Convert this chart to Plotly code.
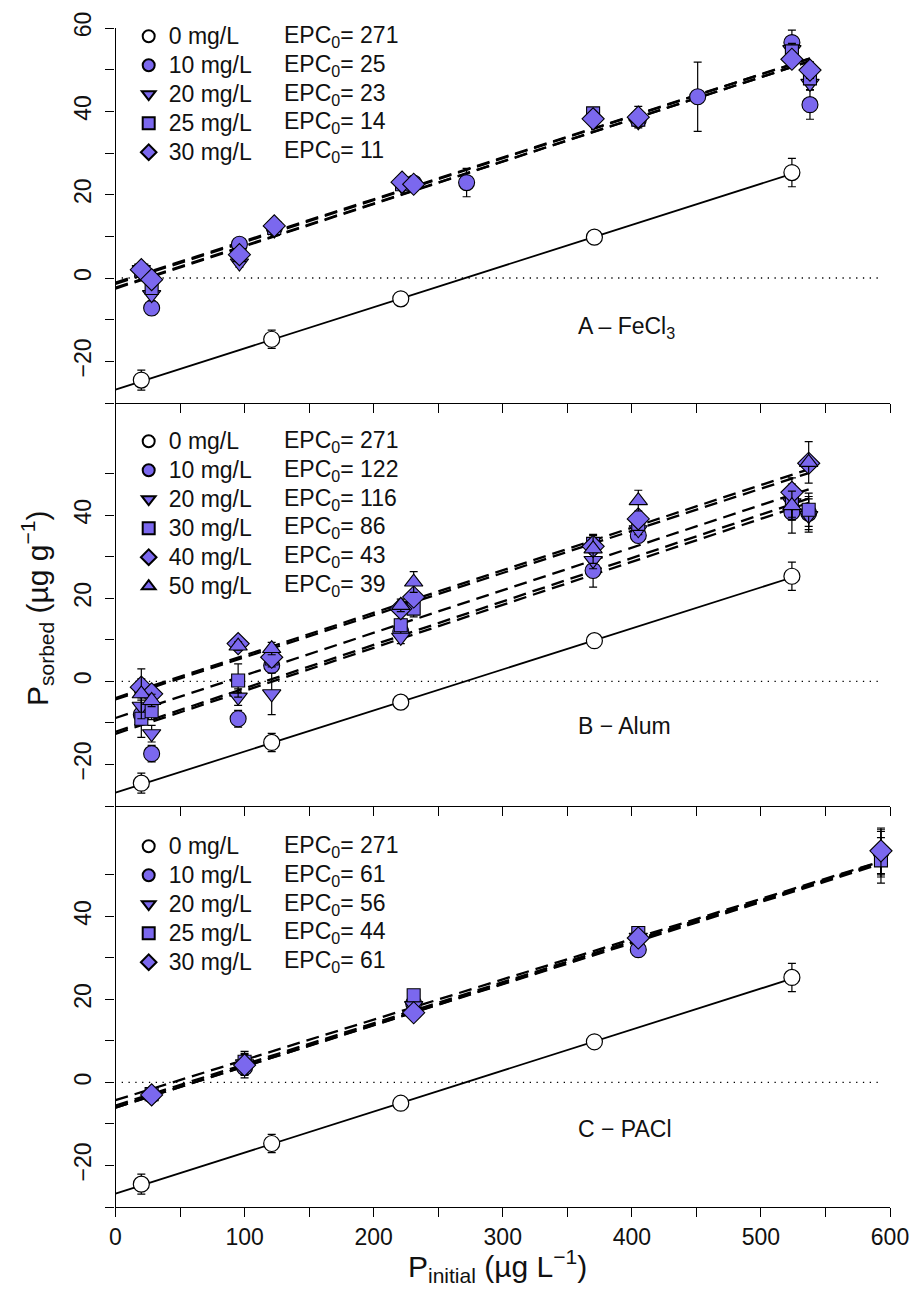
import numpy as np
import plotly.graph_objects as go

W, H = 911, 1310
FILL = "#7B68EE"
FONT = "Arial, Liberation Sans, sans-serif"

# ---------------- data ----------------
# control (0 mg/L), same in every panel
ctrl_x = [20, 121, 221, 371, 524]
ctrl_y = [-24.5, -14.7, -5.0, 9.8, 25.3]
ctrl_err = [2.4, 2.2, 1.0, 1.4, 3.4]
ctrl_epc = 271
ctrl_slope = 0.0988

# Panel A - FeCl3
fe_labels = ["10 mg/L", "20 mg/L", "25 mg/L", "30 mg/L"]
fe_epc = [25, 23, 14, 11]
fe_slope = [0.1015, 0.1010, 0.1005, 0.1000]
fe_x = [
    [28, 96, 123, 231, 272, 405, 451, 524, 538],
    [20, 28, 96, 123, 222, 370, 405, 524, 538],
    [20, 28, 96, 123, 222, 370, 405, 524, 538],
    [20, 28, 96, 123, 222, 231, 370, 405, 524, 538],
]
fe_y = [
    [-7.2, 8.1, 12.0, 22.8, 22.9, 38.0, 43.5, 56.5, 41.6],
    [2.0, -4.0, 3.6, 11.5, 22.0, 37.5, 37.5, 54.8, 46.7],
    [1.8, -2.4, 5.5, 12.0, 22.5, 39.5, 38.0, 54.4, 47.9],
    [2.0, -0.4, 5.6, 12.5, 23.0, 22.5, 38.2, 38.6, 52.5, 49.9],
]
fe_err = [
    [1.6, 1.0, 1.0, 1.0, 3.4, 1.0, 8.3, 3.0, 3.5],
    [1.0, 1.5, 1.0, 1.0, 1.0, 1.0, 1.0, 1.5, 1.5],
    [1.0, 1.5, 1.0, 1.0, 1.0, 1.0, 1.0, 1.5, 1.5],
    [1.0, 1.2, 1.0, 1.0, 1.0, 1.0, 1.0, 2.6, 1.0, 2.0],
]

# Panel B - Alum
al_labels = ["10 mg/L", "20 mg/L", "30 mg/L", "40 mg/L", "50 mg/L"]
al_epc = [122, 116, 86, 43, 39]
al_slope = [0.1035, 0.1045, 0.1025, 0.1015, 0.1025]
al_x = [
    [20, 28, 95, 121, 221, 370, 405, 524, 537],
    [20, 28, 95, 121, 221, 370, 405, 524, 537],
    [20, 28, 95, 121, 221, 231, 370, 405, 524, 537],
    [20, 28, 95, 121, 221, 231, 370, 405, 524, 537],
    [20, 28, 95, 121, 221, 231, 370, 405, 524, 537],
]
al_y = [
    [-8.0, -17.4, -9.0, 3.8, 12.0, 26.7, 35.1, 40.7, 40.5],
    [-6.0, -12.6, -3.8, -3.0, 10.6, 29.1, 36.5, 43.0, 39.9],
    [-9.0, -7.2, 0.2, 5.5, 13.5, 17.5, 33.1, 37.9, 43.5, 41.3],
    [-1.4, -3.0, 9.1, 5.8, 17.5, 20.3, 32.5, 39.1, 45.5, 52.5],
    [-3.0, -4.6, 8.5, 7.9, 18.3, 23.9, 31.9, 43.5, 42.3, 52.7],
]
al_err = [
    [2.0, 2.0, 2.0, 1.5, 1.5, 4.0, 1.2, 5.0, 4.0],
    [2.0, 2.0, 2.0, 5.0, 1.5, 2.0, 1.2, 4.0, 4.0],
    [4.5, 2.0, 4.0, 2.0, 1.5, 2.0, 2.0, 1.5, 4.0, 4.0],
    [2.0, 1.5, 1.0, 1.5, 1.5, 1.5, 1.5, 1.5, 3.5, 1.5],
    [6.0, 1.5, 1.0, 1.5, 1.5, 2.5, 3.5, 2.5, 3.5, 5.0],
]

# Panel C - PACl
pa_labels = ["10 mg/L", "20 mg/L", "25 mg/L", "30 mg/L"]
pa_epc = [61, 56, 44, 61]
pa_slope = [0.0995, 0.0990, 0.0970, 0.0990]
pa_x = [
    [28, 100, 231, 405, 593],
    [28, 100, 231, 405, 593],
    [28, 100, 231, 405, 593],
    [28, 100, 231, 405, 593],
]
pa_y = [
    [-3.0, 3.6, 19.0, 32.0, 55.5],
    [-3.5, 4.5, 18.5, 35.0, 55.0],
    [-2.8, 5.0, 21.0, 36.0, 53.5],
    [-3.0, 4.2, 16.8, 34.8, 55.8],
]
pa_err = [
    [1.0, 2.5, 1.0, 1.0, 5.5],
    [1.0, 2.5, 1.0, 1.0, 5.5],
    [1.0, 2.5, 1.0, 1.0, 5.5],
    [1.0, 2.5, 1.0, 1.0, 5.5],
]

panel_titles = ["A \u2013 FeCl<sub>3</sub>", "B \u2212 Alum", "C \u2212 PACl"]

fe_symbols = ["circle", "triangle-down", "square", "diamond"]
al_symbols = ["circle", "triangle-down", "square", "diamond", "triangle-up"]
pa_symbols = ["circle", "triangle-down", "square", "diamond"]
sym_size = {"circle": 16, "triangle-down": 16, "square": 13, "diamond": 17, "triangle-up": 16}

# y tick sets per panel
y_major = [[-20, 0, 20, 40, 60], [-20, 0, 20, 40], [-20, 0, 20, 40]]
y_minor = [[-30, -10, 10, 30, 50], [-30, -10, 10, 30, 50], [-30, -10, 10, 30, 50]]
x_major = [0, 100, 200, 300, 400, 500, 600]
x_minor = [50, 150, 250, 350, 450, 550]

# ---------------- layout geometry (pixels) ----------------
x_left, x_right = 115.5, 890.0
panel_px = [(28, 403), (403, 806), (806, 1207)]
y_ranges = [(-30, 60), (-30, 67), (-30, 66.6)]


def py(v):
    return 1 - v / H


def px(v):
    return v / W


fig = go.Figure()


def add_panel(k, labels, epcs, slopes, xs, ys, errs, symbols):
    xa = "x" if k == 0 else f"x{k+1}"
    ya = "y" if k == 0 else f"y{k+1}"
    leg = "legend" if k == 0 else f"legend{k+1}"
    # control line
    xl = np.array([0, max(ctrl_x)], dtype=float)
    fig.add_trace(go.Scatter(x=xl, y=ctrl_slope * (xl - ctrl_epc), mode="lines",
                             line=dict(color="black", width=1.8), showlegend=False,
                             xaxis=xa, yaxis=ya, hoverinfo="skip"))
    # treatment fit lines
    for e, s, xv in zip(epcs, slopes, xs):
        xl = np.array([0, max(xv)], dtype=float)
        fig.add_trace(go.Scatter(x=xl, y=s * (xl - e), mode="lines",
                                 line=dict(color="black", width=2.3, dash="13px,7px"),
                                 showlegend=False, xaxis=xa, yaxis=ya, hoverinfo="skip"))
    # control points
    fig.add_trace(go.Scatter(
        x=ctrl_x, y=ctrl_y, mode="markers",
        name='<span style="font-size:23px">0 mg/L</span>',
        marker=dict(symbol="circle", size=16, color="white", line=dict(color="black", width=1.2)),
        error_y=dict(type="data", array=ctrl_err, color="black", thickness=1.2, width=4),
        xaxis=xa, yaxis=ya, legend=leg, cliponaxis=False))
    for lab, sym, xv, yv, ev in zip(labels, symbols, xs, ys, errs):
        fig.add_trace(go.Scatter(
            x=xv, y=yv, mode="markers",
            name=f'<span style="font-size:23px">{lab}</span>',
            marker=dict(symbol=sym, size=sym_size[sym], color=FILL,
                        line=dict(color="black", width=1.1)),
            error_y=dict(type="data", array=ev, color="black", thickness=1.2, width=4),
            xaxis=xa, yaxis=ya, legend=leg, cliponaxis=False))


add_panel(0, fe_labels, fe_epc, fe_slope, fe_x, fe_y, fe_err, fe_symbols)
add_panel(1, al_labels, al_epc, al_slope, al_x, al_y, al_err, al_symbols)
add_panel(2, pa_labels, pa_epc, pa_slope, pa_x, pa_y, pa_err, pa_symbols)

axis_common = dict(showline=True, linecolor="black", linewidth=1.3, ticks="outside",
                   ticklen=9, tickwidth=1.3, tickcolor="black", showgrid=False,
                   zeroline=False, automargin=False, ticklabeloverflow="allow",
                   tickfont=dict(family=FONT, size=23, color="#111"))

layout = dict(width=W, height=H, margin=dict(l=0, r=0, t=0, b=0),
              paper_bgcolor="white", plot_bgcolor="white", font=dict(family=FONT, color="#111"))

ann = []
shapes = []
legend_rows = [36.7, 441.7, 846.7]
label_px = [327, 726, 1129]
epc_sets = [fe_epc, al_epc, pa_epc]
for k in range(3):
    top, bot = panel_px[k]
    xs_name = "xaxis" if k == 0 else f"xaxis{k+1}"
    ys_name = "yaxis" if k == 0 else f"yaxis{k+1}"
    xa = "x" if k == 0 else f"x{k+1}"
    ya = "y" if k == 0 else f"y{k+1}"
    lo, hi = y_ranges[k]
    layout[ys_name] = dict(axis_common, domain=[py(bot), py(top)], range=[lo, hi],
                           tickmode="array", tickvals=y_major[k],
                           ticktext=[str(v).replace("-", "\u2212") for v in y_major[k]],
                           minor=dict(tickmode="array", tickvals=y_minor[k], ticks="outside",
                                      ticklen=9, tickwidth=1.3, tickcolor="black", showgrid=False),
                           tickangle=-90, ticklabelstandoff=5, anchor=xa)
    layout[xs_name] = dict(axis_common, domain=[px(x_left), px(x_right)], range=[0, 600],
                           tickmode="array", tickvals=x_major,
                           minor=dict(tickmode="array", tickvals=x_minor, ticks="outside",
                                      ticklen=9, tickwidth=1.3, tickcolor="black", showgrid=False),
                           showticklabels=(k == 2), anchor=ya)
    leg = "legend" if k == 0 else f"legend{k+1}"
    layout[leg] = dict(x=px(128.7), y=py(legend_rows[k] - 20), xanchor="left", yanchor="top",
                       bgcolor="rgba(0,0,0,0)", borderwidth=0, itemsizing="constant",
                       tracegroupgap=0, font=dict(family=FONT, size=20, color="#111"))
    # EPC labels
    for i, e in enumerate([ctrl_epc] + list(epc_sets[k])):
        ann.append(dict(x=px(282), y=py(legend_rows[k] + i * 28.7), xref="paper", yref="paper",
                        xanchor="left", yanchor="middle", showarrow=False,
                        text=f"EPC<sub>0</sub>= {e}", font=dict(family=FONT, size=23, color="#111")))
    ann.append(dict(x=px(576), y=py(label_px[k]), xref="paper", yref="paper", xanchor="left",
                    yanchor="middle", showarrow=False, text=panel_titles[k],
                    font=dict(family=FONT, size=23, color="#111")))
    shapes.append(dict(type="line", xref=f"{xa} domain", yref=ya, x0=0.008, x1=0.99, y0=0, y1=0,
                       line=dict(color="black", width=1.3, dash="1.3px,5.5px"), layer="below"))

ann.append(dict(x=px(37), y=py(608), xref="paper", yref="paper", textangle=-90, showarrow=False,
                xanchor="center", yanchor="middle",
                text="P<sub>sorbed</sub> (\u00b5g g<sup>\u22121</sup>)",
                font=dict(family=FONT, size=30, color="#111")))
ann.append(dict(x=px(497), y=py(1266), xref="paper", yref="paper", showarrow=False,
                xanchor="center", yanchor="middle",
                text="P<sub>initial</sub> (\u00b5g L<sup>\u22121</sup>)",
                font=dict(family=FONT, size=30, color="#111")))

layout["annotations"] = ann
layout["shapes"] = shapes
fig.update_layout(**layout)

fig.write_html("out.html", config={"displayModeBar": False},
               post_script="document.body.style.margin='0';document.body.style.overflow='hidden';")
